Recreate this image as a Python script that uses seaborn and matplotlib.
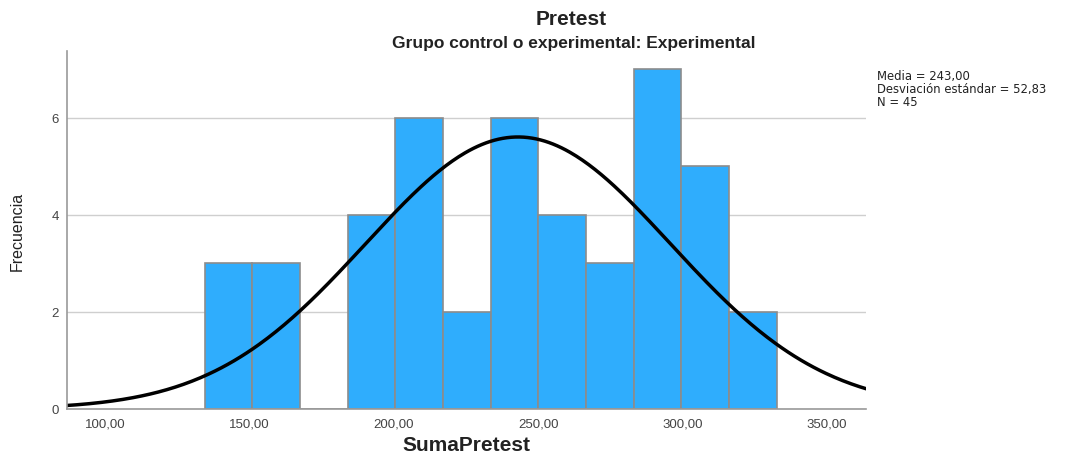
import numpy as np
import pandas as pd
import matplotlib
matplotlib.use("Agg")
import matplotlib.pyplot as plt
import seaborn as sns

# Data
bin_start = 134.5
bin_width = 16.5
counts = [3, 3, 0, 4, 6, 2, 6, 4, 3, 7, 5, 2]
mean_val = 243.00
sd_val = 52.83
n_val = 45
x_ticks = [100, 150, 200, 250, 300, 350]
x_tick_labels = ["100,00", "150,00", "200,00", "250,00", "300,00", "350,00"]
y_ticks = [0, 2, 4, 6]
y_tick_labels = ["0", "2", "4", "6"]

sns.set_style("white")
plt.rcParams['font.family'] = ['Liberation Sans Narrow', 'Liberation Sans', 'DejaVu Sans']

edges = [float(bin_start + bin_width * i) for i in range(len(counts) + 1)]
centers = [(edges[i] + edges[i + 1]) / 2 for i in range(len(counts))]
df = pd.DataFrame({"SumaPretest": centers, "n": counts})

fig = plt.figure(figsize=(10.68, 4.56), dpi=100)
ax = fig.add_axes([0.063, 0.101, 0.748, 0.785])

ax.yaxis.grid(True, color="#cfcfcf", linewidth=1)
ax.set_axisbelow(True)

sns.histplot(data=df, x="SumaPretest", weights="n", bins=edges, ax=ax,
             color="#2fadfd", alpha=1, edgecolor="#8c8c8c", linewidth=1.2)

xs = np.linspace(80, 370, 400)
ys = n_val * bin_width * np.exp(-0.5 * ((xs - mean_val) / sd_val) ** 2) / (sd_val * np.sqrt(2 * np.pi))
sns.lineplot(x=xs, y=ys, ax=ax, color="black", linewidth=2.5)

ax.set_xlim(87, 363.5)
ax.set_ylim(0, 7.38)
ax.set_xticks(x_ticks)
ax.set_xticklabels(x_tick_labels, fontsize=9.5, color="#444444")
ax.set_yticks(y_ticks)
ax.set_yticklabels(y_tick_labels, fontsize=9.5, color="#444444")
ax.tick_params(axis="both", length=0, pad=6)
for s in ["top", "right"]:
    ax.spines[s].set_visible(False)
for s in ["left", "bottom"]:
    ax.spines[s].set_color("#9a9a9a")
    ax.spines[s].set_linewidth(1.2)

ax.set_xlabel("")
ax.set_ylabel("Frecuencia", fontsize=11.5, color="#222222", labelpad=19)
fig.text(0.437, 0.022, "SumaPretest", ha="center", va="center", fontsize=15,
         fontweight="bold", color="#222222")

fig.text(0.535, 0.958, "Pretest", ha="center", va="center", fontsize=15, fontweight="bold", color="#222222")
fig.text(0.537, 0.905, "Grupo control o experimental: Experimental", ha="center", va="center",
         fontsize=12.5, fontweight="bold", color="#222222")

fig.text(0.821, 0.846, "Media = 243,00\nDesviación estándar = 52,83\nN = 45", ha="left", va="top",
         fontsize=8.4, color="#222222", linespacing=0.98, family=['DejaVu Sans'])

fig.savefig("out.png", dpi=100)
